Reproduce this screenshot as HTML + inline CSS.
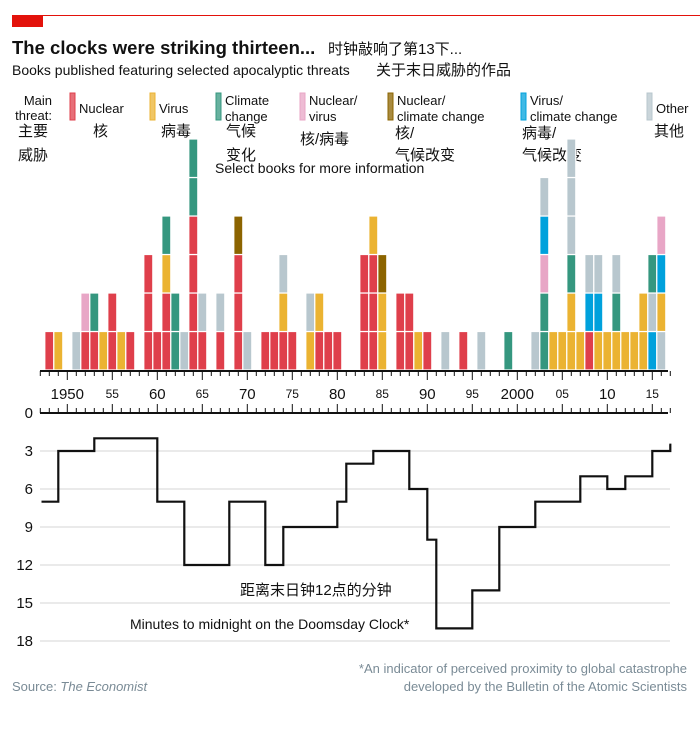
<!DOCTYPE html>
<html><head><meta charset="utf-8">
<style>
html,body{margin:0;padding:0;background:#fff;}
body{width:700px;height:732px;overflow:hidden;font-family:"Liberation Sans","Noto Sans CJK SC",sans-serif;}
svg text{font-family:"Liberation Sans","Noto Sans CJK SC",sans-serif;}
</style></head>
<body>
<svg id="chart" width="700" height="732" viewBox="0 0 700 732" xmlns="http://www.w3.org/2000/svg">
<line x1="12" y1="15.5" x2="700" y2="15.5" stroke="#e3120b" stroke-width="1"/>
<rect x="12" y="15" width="31" height="12" fill="#e3120b"/>
<text x="12" y="54" font-size="18.5" font-weight="bold" fill="#111">The clocks were striking thirteen...</text>
<text x="328" y="54" font-size="15" fill="#111">时钟敲响了第13下...</text>
<text x="12" y="75" font-size="14" fill="#111">Books published featuring selected apocalyptic threats</text>
<text x="376" y="75" font-size="15" fill="#111">关于末日威胁的作品</text>
<g id="legend" font-size="13" fill="#111">
<text x="52" y="105" text-anchor="end">Main</text>
<text x="52" y="120" text-anchor="end">threat:</text>
<text x="18" y="136" font-size="15">主要</text>
<text x="18" y="160" font-size="15">威胁</text>
</g>
<text x="215" y="173" font-size="14" fill="#111">Select books for more information</text>
<g id="bars"></g>
<g id="xaxis"></g>
<g id="lower"></g>
<text x="240" y="595" font-size="15" fill="#111">距离末日钟12点的分钟</text>
<text x="130" y="629" font-size="14" fill="#111">Minutes to midnight on the Doomsday Clock*</text>
<text x="687" y="673" font-size="13" fill="#7a8b96" text-anchor="end">*An indicator of perceived proximity to global catastrophe</text>
<text x="687" y="691" font-size="13" fill="#7a8b96" text-anchor="end">developed by the Bulletin of the Atomic Scientists</text>
<text x="12" y="691" font-size="13" fill="#7a8b96">Source: <tspan font-style="italic">The Economist</tspan></text>
</svg>
<script>
const NS="http://www.w3.org/2000/svg";
const threatKeys=["R","Y","G","P","B","C","O"];
const threatColors={R:"#df3f4b",Y:"#ebb332",G:"#35977f",P:"#e8a6c6",B:"#8c6400",C:"#00a1dc",O:"#b8c7ce"};
const legendLabels=[["Nuclear"],["Virus"],["Climate","change"],["Nuclear/","virus"],["Nuclear/","climate change"],["Virus/","climate change"],["Other"]];
const legendCn=[["核"],["病毒"],["气候","变化"],["核/病毒"],["核/","气候改变"],["病毒/","气候改变"],["其他"]];
const bookYears=[1948,1949,1951,1952,1953,1954,1955,1956,1957,1959,1960,1961,1962,1963,1964,1965,1967,1969,1970,1972,1973,1974,1975,1977,1978,1979,1980,1983,1984,1985,1987,1988,1989,1990,1992,1994,1996,1999,2002,2003,2004,2005,2006,2007,2008,2009,2010,2011,2012,2013,2014,2015,2016];
const bookStacks=["R","Y","O","RP","RG","Y","RR","Y","R","RRR","R","RRYG","GG","O","RRRRGG","RO","RO","RRRB","O","R","R","RYO","R","YO","RY","R","R","RRR","RRRY","YYB","RR","RR","Y","R","O","R","O","G","O","GGPCO","Y","Y","YYGOOO","Y","RCO","YCO","Y","YGO","Y","Y","YY","COG","OYCP"];
const clockYears=[1947,1949,1953,1960,1963,1968,1972,1974,1980,1981,1984,1988,1990,1991,1995,1998,2002,2007,2010,2012,2015,2017];
const clockMinutes=[7,3,2,7,12,7,12,9,7,4,3,6,10,17,14,9,7,5,6,5,3,2.5];
const yTicks=[0,3,6,9,12,15,18];

const x=y=>67.3+(y-1950)*9;
const base=370, unit=38.5;
const ym=m=>413+m*12.667;
function el(tag,attrs,parent){const e=document.createElementNS(NS,tag);for(const k in attrs)e.setAttribute(k,attrs[k]);parent.appendChild(e);return e;}

// legend
const lg=document.getElementById('legend');
const lx=[70,150,216,300,388,521,647];
threatKeys.forEach((k,i)=>{
  const r=el('rect',{x:lx[i],y:93,width:5,height:27,fill:threatColors[k],'fill-opacity':0.75,stroke:threatColors[k],'stroke-width':1},lg);
  
  
  const lines=legendLabels[i];
  lines.forEach((t,j)=>{
    const ty=lines.length==1?(k==="O"?113:113):105+j*16;
    const tx=el('text',{x:lx[i]+9,y:ty},lg);tx.textContent=t;
    
    
  });
  const cn=legendCn[i];
  cn.forEach((t,j)=>{
    let cy,cx=lx[i]+9;
    if(i==0){cx=93;cy=136;}else if(i==1){cx=161;cy=136;}else if(i==2){cx=226;cy=136+j*24;}
    else if(i==3){cx=300;cy=144;}else if(i==6){cx=654;cy=136;}else{cy=138+j*22;cx=lx[i]+(i==4?7:1);}
    const tc=el('text',{x:cx,y:cy,'font-size':15},lg);tc.textContent=t;
    
    
  });
});

// bars
const bg=document.getElementById('bars');
bookYears.forEach((yr,i)=>{
  const s=bookStacks[i];
  for(let j=0;j<s.length;j++){
    const r=el('rect',{x:x(yr)-4.5,y:base-(j+1)*unit,width:9,height:unit,fill:threatColors[s[j]],stroke:'#fff','stroke-width':1.2},bg);
    
    
  }
});

// axes
const ax=document.getElementById('xaxis');
function axis(yLine,dir){
  el('line',{x1:40,y1:yLine,x2:668,y2:yLine,stroke:'#111','stroke-width':2},ax);
  for(let yr=1947;yr<=2017;yr++){
    const len=yr%5==0?9:5;
    el('line',{x1:x(yr),y1:yLine,x2:x(yr),y2:yLine+dir*len,stroke:'#111','stroke-width':1},ax);
  }
}
axis(371,1);axis(413,-1);
for(let yr=1950;yr<=2015;yr+=5){
  let lab=yr==1950?"1950":yr==2000?"2000":String(yr%100).padStart(2,"0");
  const big=yr%10==0;
  const t=el('text',{x:x(yr),y:big?399:398,'text-anchor':'middle','font-size':big?15:12,fill:'#111'},ax);
  t.textContent=lab;
  
  
}

// lower chart
const lw=document.getElementById('lower');
yTicks.forEach(v=>{
  if(v>0){const g=el('line',{x1:40,y1:ym(v),x2:670,y2:ym(v),stroke:'#d4d4d4','stroke-width':1},lw);
  }
  const t=el('text',{x:33,y:ym(v)+5,'text-anchor':'end','font-size':15,fill:'#111'},lw);
  t.textContent=v;
  
  
});
let d="";
clockYears.forEach((yr,i)=>{
  const px=i==0?41.5:x(yr);
  if(i==0)d+="M"+px+","+ym(clockMinutes[0]);
  else d+="H"+px+"V"+ym(clockMinutes[i]);
});
d+="H"+(x(clockYears[clockYears.length-1])-1);
const p=el('path',{d:d,fill:'none',stroke:'#111','stroke-width':2.2},lw);


</script>
</body></html>
